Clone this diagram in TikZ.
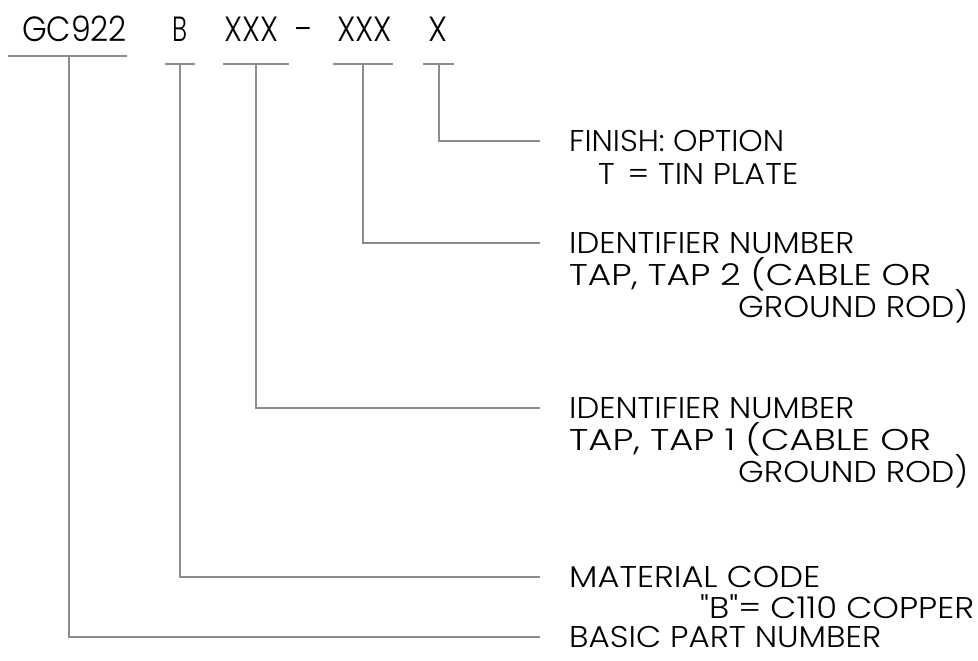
\documentclass[tikz,border=0pt]{standalone}
\usepackage{fontspec}
\setmainfont{Poppins}[Ligatures=TeXOff, UprightFont=* Light]
\definecolor{linegray}{RGB}{140,140,140}
\newsavebox\fitbox
\newcommand\fitw[2]{\sbox\fitbox{#2}\pgfmathsetmacro\fitsx{#1/\the\wd\fitbox}\scalebox{\fitsx}[1]{\usebox\fitbox}}
\begin{document}
\begin{tikzpicture}[x=1pt,y=-1pt,
  ln/.style={draw=linegray, line width=1.1pt},
  toptxt/.style={font=\fontsize{35}{38}\selectfont, inner sep=0pt, anchor=base},
  lbl/.style={font=\fontsize{30}{32}\selectfont, inner sep=0pt, anchor=base west}]
\useasboundingbox (0,0) rectangle (978,661);
% part number pieces
\node[toptxt] (gc) at (74.5,42) {\fitw{105}{GC922}};
\node[toptxt] (b) at (180,42) {\fitw{15}{B}};
\node[toptxt] (x1) at (251.5,42) {\fitw{54}{XXX}};
\node[toptxt] (dash) at (305,42) {-};
\node[toptxt] (x2) at (364.5,42) {\fitw{55}{XXX}};
\node[toptxt] (x3) at (437.5,42) {\fitw{19}{X}};
% underline bars
\coordinate (gcL) at (8,56);  \coordinate (gcR) at (127,56); \coordinate (gcM) at (69,56);
\coordinate (bL) at (165,64); \coordinate (bR) at (195,64);  \coordinate (bM) at (180,64);
\coordinate (x1L) at (223,64); \coordinate (x1R) at (289,64); \coordinate (x1M) at (256,64);
\coordinate (x2L) at (333,64); \coordinate (x2R) at (393,64); \coordinate (x2M) at (363,64);
\coordinate (x3L) at (423,64); \coordinate (x3R) at (454,64); \coordinate (x3M) at (439,64);
\draw[ln] (gcL) -- (gcR);
\draw[ln] (bL) -- (bR);
\draw[ln] (x1L) -- (x1R);
\draw[ln] (x2L) -- (x2R);
\draw[ln] (x3L) -- (x3R);
% labels
\node[lbl] (fin1) at (569,151) {\fitw{215}{FINISH: OPTION}};
\node[lbl] (fin2) at (598,184) {\fitw{200}{T\hspace{0.4em}= TIN PLATE}};
\node[lbl] (idb1) at (569,253) {\fitw{285}{IDENTIFIER NUMBER}};
\node[lbl] (idb2) at (569,285) {\fitw{362}{TAP, TAP 2 (CABLE OR}};
\node[lbl] (idb3) at (738,317) {\fitw{230}{GROUND ROD)}};
\node[lbl] (ida1) at (569,418) {\fitw{285}{IDENTIFIER NUMBER}};
\node[lbl] (ida2) at (569,450) {\fitw{362}{TAP, TAP 1 (CABLE OR}};
\node[lbl] (ida3) at (738,482) {\fitw{230}{GROUND ROD)}};
\node[lbl] (mat1) at (569,587) {\fitw{251}{MATERIAL CODE}};
\node[lbl] (mat2) at (700,618) {\fitw{274}{"B"= C110 COPPER}};
\node[lbl] (bas1) at (569,647) {\fitw{312}{BASIC PART NUMBER}};
% leaders
\coordinate (e1) at (540,141);
\coordinate (e2) at (540,243);
\coordinate (e3) at (540,408);
\coordinate (e4) at (540,577);
\coordinate (e5) at (540,637);
\draw[ln] (x3M) |- (e1);
\draw[ln] (x2M) |- (e2);
\draw[ln] (x1M) |- (e3);
\draw[ln] (bM) |- (e4);
\draw[ln] (gcM) |- (e5);
\end{tikzpicture}
\end{document}
